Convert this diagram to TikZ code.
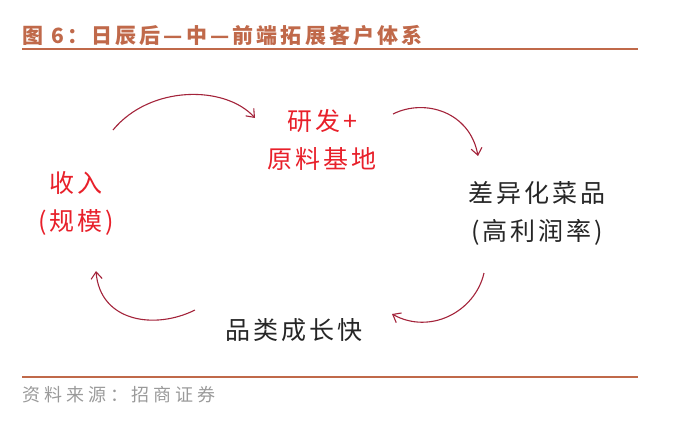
\documentclass[tikz,border=0pt]{standalone}
\usepackage{fontspec}
\newfontfamily\cjk{Noto Sans CJK SC}
\newfontfamily\cjksp{Noto Sans CJK SC}[LetterSpace=12]
\newfontfamily\cjktitle{Noto Sans CJK SC}[LetterSpace=15]
\newfontfamily\cjksrc{Noto Sans CJK SC}[LetterSpace=22]
\usetikzlibrary{arrows.meta}
\definecolor{titlec}{HTML}{C0694A}
\definecolor{redtxt}{HTML}{E8202A}
\definecolor{arrc}{HTML}{A3233A}
\definecolor{srcc}{HTML}{9A9A9A}
\tikzset{
  lbl/.style={font=\cjksp\fontsize{25}{38}\selectfont, align=center, inner sep=0pt},
  redlbl/.style={lbl, text=redtxt},
  blklbl/.style={lbl, text=black!85},
  cyc/.style={draw=arrc, line width=1.1pt, -{Straight Barb[length=7pt,width=11pt,line width=1.1pt]}},
  rulec/.style={draw=titlec, line width=2.5pt}
}
\begin{document}
\begin{tikzpicture}[x=1pt,y=-1pt]
\useasboundingbox (0,0) rectangle (691,426);
\node[anchor=west, text=titlec, font=\cjktitle\bfseries\fontsize{21}{24}\selectfont, inner sep=0pt] (title) at (22,35) {图 6：日辰后—中—前端拓展客户体系};
\coordinate (t1) at (22,49);
\coordinate (t2) at (638,49);
\draw[rulec, line width=2pt] (t1) -- (t2);
\coordinate (b1) at (22,377);
\coordinate (b2) at (638,377);
\draw[rulec] (b1) -- (b2);
\node[anchor=west, text=srcc, font=\cjksrc\fontsize{18}{20}\selectfont, inner sep=0pt] (src) at (22,395) {资料来源：招商证券};

\node[redlbl] (rd) at (322,140) {研发+\\原料基地};
\node[redlbl] (inc) at (76,203) {收入\\(规模)};
\node[blklbl] (diff) at (537,213) {差异化菜品\\(高利润率)};
\node[blklbl] (grow) at (294,330) {品类成长快};

\coordinate (a1s) at (113,130);
\coordinate (a1e) at (255,118);
\coordinate (a2s) at (393,114);
\coordinate (a2e) at (478,156);
\coordinate (a3s) at (484,273);
\coordinate (a3e) at (392,314);
\coordinate (a4s) at (195,310);
\coordinate (a4e) at (96,271);
\draw[cyc] (a1s) .. controls (150,85) and (225,85) .. (a1e);
\draw[cyc] (a2s) .. controls (425,98) and (470,112) .. (a2e);
\draw[cyc] (a3s) .. controls (475,312) and (430,335) .. (a3e);
\draw[cyc] (a4s) .. controls (155,330) and (100,322) .. (a4e);
\end{tikzpicture}
\end{document}
